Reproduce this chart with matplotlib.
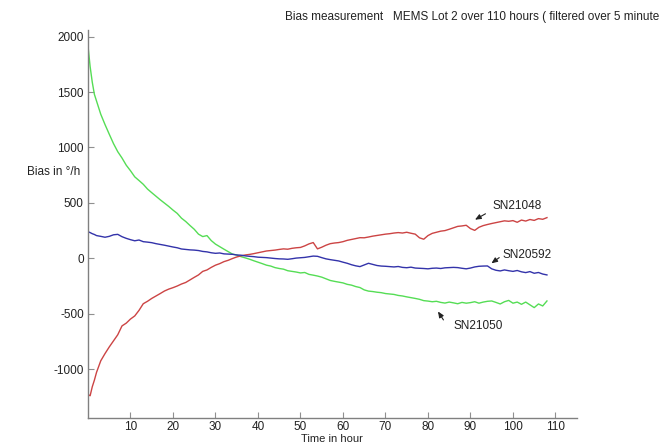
import matplotlib
matplotlib.use("Agg")
import matplotlib.pyplot as plt

hours = [0, 0.5, 1, 1.5] + list(range(2, 109))

sn21050 = [1915, 1730, 1590, 1480, 1420,
           1300, 1207, 1120, 1035, 962, 905, 840, 790, 735, 702,
           668, 625, 592, 560, 528, 498, 468, 435, 405, 362,
           332, 296, 262, 218, 196, 205, 160, 128, 105, 82,
           60, 38, 30, 15, 4, -8, -22, -35, -48, -62,
           -70, -84, -92, -98, -112, -118, -124, -132, -128, -145,
           -152, -160, -170, -185, -200, -208, -215, -222, -235, -242,
           -255, -264, -285, -296, -300, -306, -310, -318, -322, -326,
           -335, -340, -348, -355, -362, -370, -382, -386, -392, -388,
           -398, -404, -395, -402, -410, -398, -405, -400, -392, -405,
           -395, -388, -385, -398, -412, -392, -380, -405, -395, -415,
           -395, -420, -445, -412, -430, -385]

sn21048 = [-1230, -1240, -1160, -1100, -1030,
           -925, -860, -800, -745, -690, -610, -585, -548, -520, -470,
           -410, -388, -362, -340, -318, -295, -278, -265, -250, -232,
           -218, -195, -172, -150, -118, -105, -82, -62, -48, -30,
           -18, -2, 12, 22, 30, 35, 42, 50, 58, 66,
           70, 74, 80, 85, 82, 90, 95, 98, 112, 130,
           142, 85, 100, 118, 132, 138, 142, 150, 162, 170,
           178, 186, 185, 192, 200, 206, 212, 218, 222, 228,
           232, 228, 235, 226, 218, 185, 172, 205, 225, 235,
           245, 250, 262, 275, 288, 292, 298, 268, 252, 280,
           295, 305, 314, 322, 330, 338, 334, 340, 325, 345,
           336, 350, 342, 358, 352, 367]

sn20592 = [240, 232, 222, 215, 205,
           198, 190, 198, 212, 216, 195, 180, 168, 158, 165,
           150, 146, 141, 132, 125, 118, 110, 102, 95, 84,
           80, 76, 74, 70, 62, 58, 50, 45, 48, 40,
           38, 36, 30, 28, 22, 18, 15, 10, 8, 6,
           2, -2, -5, -6, -9, -4, 2, 5, 8, 14,
           20, 18, 6, -5, -12, -18, -24, -35, -45, -58,
           -68, -75, -60, -45, -55, -65, -70, -72, -75, -78,
           -74, -82, -85, -80, -88, -90, -92, -95, -90, -88,
           -92, -86, -84, -82, -84, -90, -95, -88, -78, -72,
           -70, -69, -95, -108, -114, -105, -112, -118, -110, -122,
           -129, -120, -135, -128, -142, -150]

x_ticks = [10, 20, 30, 40, 50, 60, 70, 80, 90, 100, 110]
y_ticks = [-1000, -500, 0, 500, 1000, 1500, 2000]

plt.rcParams['font.family'] = ['Liberation Sans', 'DejaVu Sans']
plt.rcParams['axes.unicode_minus'] = False

W, H = 661, 443
fig = plt.figure(figsize=(W / 100, H / 100), dpi=100)
ax = fig.add_axes([88 / W, 1 - 418 / H, (576.7 - 88) / W, (418 - 30) / H])

ax.plot(hours, sn21050, color='#55dd55', lw=1.0)
ax.plot(hours, sn21048, color='#cc4444', lw=1.0)
ax.plot(hours, sn20592, color='#3333aa', lw=1.0)

ax.set_xlim(0, 115)
ax.set_ylim(-1441, 2060)
ax.set_xticks(x_ticks)
ax.set_yticks(y_ticks)
for s in ['top', 'right']:
    ax.spines[s].set_visible(False)
for s in ['left', 'bottom']:
    ax.spines[s].set_color('#808080')
    ax.spines[s].set_linewidth(1.0)
ax.tick_params(direction='in', length=4, width=0.8, color='#909090',
               labelsize=8.5, labelcolor='#222222')
ax.tick_params(axis='x', pad=2)
ax.tick_params(axis='y', pad=3)

fig.text(332 / W, 1 - 438.5 / H, 'Time in hour', fontsize=8, color='#222222',
         ha='center', va='center')
fig.text(27 / W, 1 - 172 / H, 'Bias in °/h', fontsize=8.5, color='#222222',
         ha='left', va='center')
fig.text(659 / W, 1 - 17 / H,
         'Bias measurement   MEMS Lot 2 over 110 hours ( filtered over 5 minute',
         fontsize=8.5, color='#222222', ha='right', va='center')

arrow = dict(arrowstyle='-|>,head_length=0.35,head_width=0.15', color='#222222', lw=0.8)
ax.annotate('', xy=(90.5, 336), xytext=(94.1, 414), arrowprops=arrow)
ax.text(95.1, 471, 'SN21048', fontsize=8.5, color='#222222', ha='left', va='center')
ax.annotate('', xy=(94.4, -60), xytext=(97.3, 21), arrowprops=arrow)
ax.text(97.6, 27, 'SN20592', fontsize=8.5, color='#222222', ha='left', va='center')
ax.annotate('', xy=(82, -459), xytext=(84, -577), arrowprops=arrow)
ax.text(85.9, -610, 'SN21050', fontsize=8.5, color='#222222', ha='left', va='center')

fig.savefig('out.png', dpi=100)
